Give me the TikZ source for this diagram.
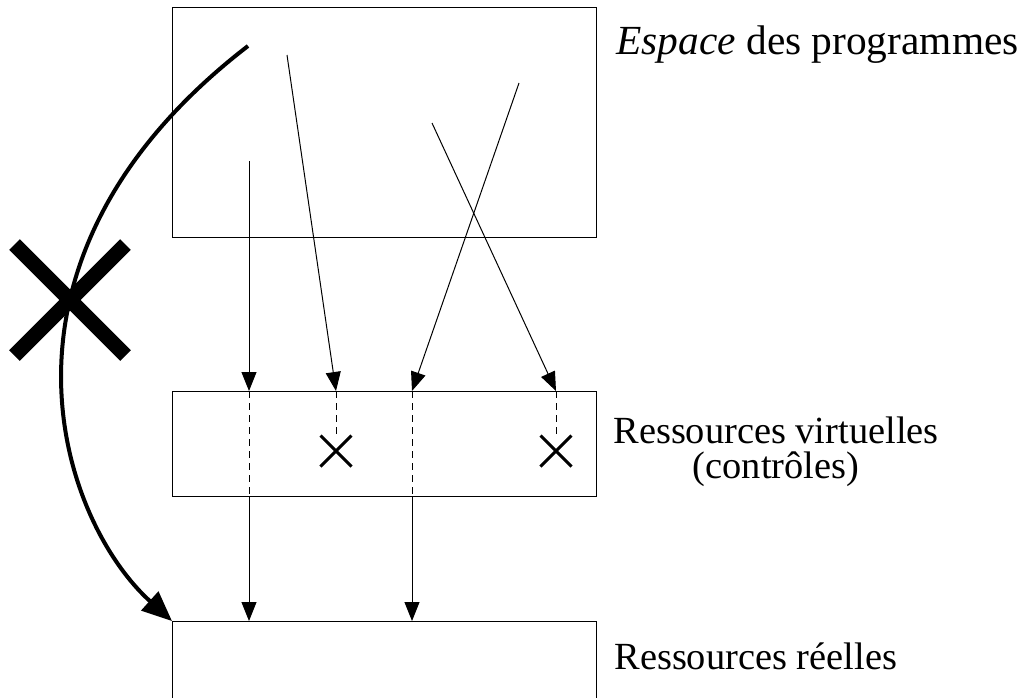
\documentclass[tikz,border=0pt]{standalone}
\usepackage{fontspec}
\setmainfont{Liberation Serif}
\usetikzlibrary{arrows.meta,positioning,shapes.misc,calc}

\begin{document}
\begin{tikzpicture}[
  x=0.5pt, y=-0.5pt,
  >={Triangle[length=9.5pt,width=7.5pt]},
  zone/.style={
    draw=black,
    line width=0.5pt,
    inner sep=0pt,
    minimum width=212pt,
    anchor=north west
  },
  fleche/.style={->, line width=0.5pt},
  pointille/.style={line width=0.5pt, dash pattern=on 3.5pt off 2.5pt},
  croix/.style={
    draw,
    cross out,
    line width=1.5pt,
    minimum size=14pt,
    inner sep=0pt
  },
  legende/.style={font=\fontsize{19.2}{17}\selectfont, inner sep=0pt}
]
  \path[use as bounding box, clip] (0,0) rectangle (1033,697);

  % --- ZONES ---
  \node[zone, minimum height=115pt] (programmes) at (172,7) {};
  \node[zone, minimum height=52.5pt] (virtuelles) at (172,391) {};
  \node[zone, minimum height=50pt] (reelles) at (172,621) {};

  % Legendes
  \node[legende, font=\fontsize{20.7}{17}\selectfont, anchor=base west] (legProg) at (616,54) {\textit{Espace} des programmes};
  \node[legende, align=center, anchor=base west] (legVirt) at (613,478) {Ressources virtuelles\\[0.5pt](contrôles)};
  \node[legende, anchor=base west] (legReel) at (614,669) {Ressources réelles};

  % --- ACCES ---
  \coordinate (d1) at (249,161);
  \coordinate (d2) at (287,55);
  \coordinate (d3) at (519,83);
  \coordinate (d4) at (432,123);
  \coordinate (colA) at (249,391);
  \coordinate (colB) at (412,391);

  \node[croix] (croixA) at (336,451) {};
  \node[croix] (croixB) at (556,451) {};

  % acces autorises
  \draw[fleche] (d1) -- (colA);
  \draw[pointille] (colA) -- (colA |- virtuelles.south);
  \draw[fleche] (colA |- virtuelles.south) -- (colA |- reelles.north);

  \draw[fleche] (d3) -- (colB);
  \draw[pointille] (colB) -- (colB |- virtuelles.south);
  \draw[fleche] (colB |- virtuelles.south) -- (colB |- reelles.north);

  % acces refuses
  \draw[fleche] (d2) -- (croixA |- virtuelles.north);
  \draw[pointille] (croixA |- virtuelles.north) -- (croixA.north);

  \draw[fleche] (d4) -- (croixB |- virtuelles.north);
  \draw[pointille] (croixB |- virtuelles.north) -- (croixB.north);

  % --- ACCES DIRECT INTERDIT ---
  \coordinate (courbe) at (248,46);
  \draw[->, line width=2pt, >={Triangle[length=15pt,width=12.5pt]}]
    (courbe) .. controls (-30,260) and (60,520) .. (reelles.north west);
  \node[croix, line width=7.5pt, minimum size=48pt] (interdit) at (70,300) {};

\end{tikzpicture}
\end{document}
